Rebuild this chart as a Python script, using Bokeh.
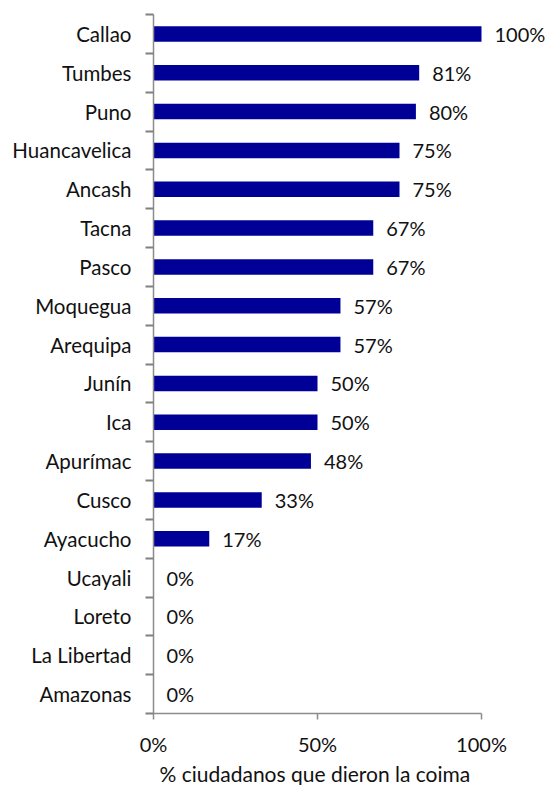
from bokeh.plotting import figure
from bokeh.models import (Range1d, FixedTicker, NumeralTickFormatter, ColumnDataSource,
                          LabelSet, Title)
from bokeh.core.properties import value
from bokeh.embed import file_html
from bokeh.resources import INLINE

regions = ["Callao", "Tumbes", "Puno", "Huancavelica", "Ancash", "Tacna", "Pasco",
           "Moquegua", "Arequipa", "Junín", "Ica", "Apurímac", "Cusco", "Ayacucho",
           "Ucayali", "Loreto", "La Libertad", "Amazonas"]
values = [100, 81, 80, 75, 75, 67, 67, 57, 57, 50, 50, 48, 33, 17, 0, 0, 0, 0]
x_ticks = [0, 0.5, 1.0]
x_title = "% ciudadanos que dieron la coima"

n = len(regions)
ypos = [n - i - 0.5 for i in range(n)]
frac = [v / 100 for v in values]
labels = [f"{v}%" for v in values]

src = ColumnDataSource(dict(y=ypos, x=frac, lab=labels))

FONT = "Lato"
AXC = "#8c8c8c"
TXT = "#111111"

p = figure(width=547, height=785, output_backend="svg", toolbar_location=None,
           x_range=Range1d(0, 1.2012), y_range=Range1d(0, n),
           min_border_left=153, min_border_right=0, min_border_top=14, min_border_bottom=72)
p.outline_line_color = None
p.xgrid.visible = False
p.ygrid.visible = False
p.background_fill_color = "white"
p.border_fill_color = "white"

p.hbar(y="y", right="x", left=0, height=0.4, source=src, fill_color="#000096", line_color=None)

ls = LabelSet(x="x", y="y", text="lab", source=src, x_offset=13, text_align="left",
              text_baseline="middle", text_font=value(FONT), text_font_size=value("20px"),
              text_color=TXT)
p.add_layout(ls)

# x axis
ax = p.xaxis[0]
ax.bounds = (0, 1)
ax.ticker = FixedTicker(ticks=x_ticks)
ax.formatter = NumeralTickFormatter(format="0%")
ax.axis_line_color = AXC
ax.axis_line_width = 1.5
ax.major_tick_line_color = AXC
ax.major_tick_line_width = 1.5
ax.major_tick_out = 6
ax.major_tick_in = 0
ax.minor_tick_line_color = None
ax.major_label_text_font = FONT
ax.major_label_text_font_size = "20px"
ax.major_label_text_color = TXT
ax.major_label_standoff = 12

p.add_layout(Title(text=x_title, align="left", offset=6, text_font=FONT,
                   text_font_size="21px", text_font_style="normal", text_color=TXT,
                   standoff=0), "below")

# y axis: category labels, line and separator ticks
ay = p.yaxis[0]
ay.bounds = (0, n)
ay.ticker = FixedTicker(ticks=ypos, minor_ticks=[float(i) for i in range(n + 1)])
ay.major_label_overrides = {y: r for y, r in zip(ypos, regions)}
ay.axis_line_color = AXC
ay.axis_line_width = 1.5
ay.major_tick_line_color = None
ay.major_tick_out = 0
ay.major_tick_in = 0
ay.minor_tick_line_color = "gray"
ay.minor_tick_line_width = 2
ay.minor_tick_out = 8
ay.minor_tick_in = 0
ay.major_label_text_font = FONT
ay.major_label_text_font_size = "20.5px"
ay.major_label_text_color = TXT
ay.major_label_standoff = 14

open("out.html", "w").write(file_html(p, INLINE))
